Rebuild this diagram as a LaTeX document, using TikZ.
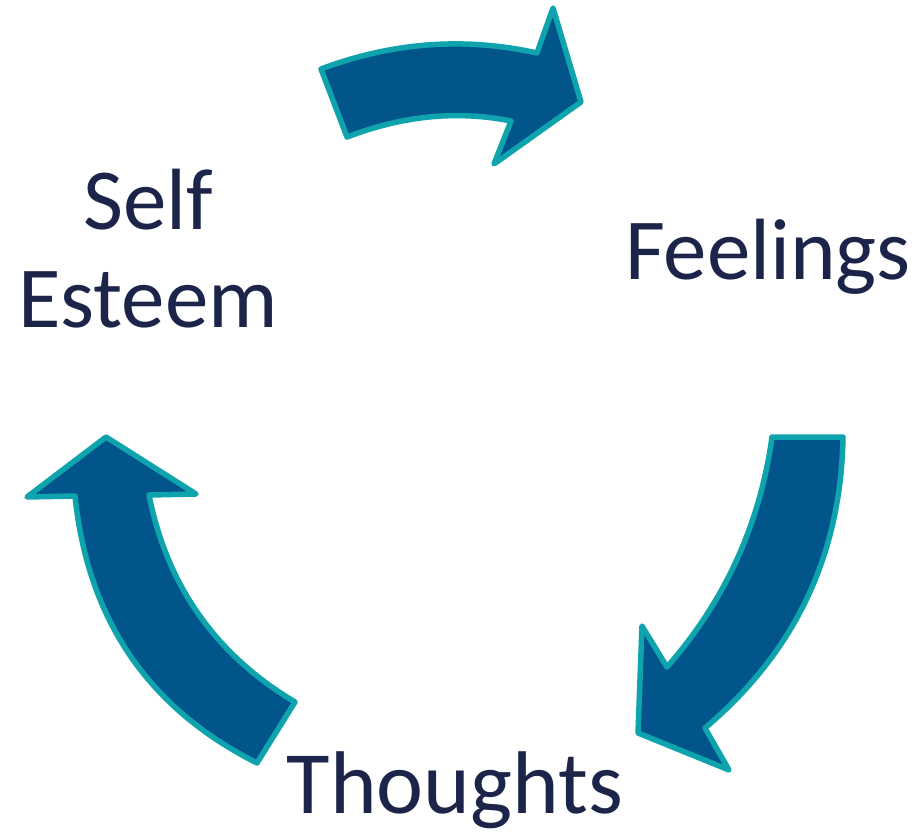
\documentclass[tikz,border=0pt]{standalone}
\usepackage{fontspec}
\setmainfont{Carlito}
\definecolor{arrowfill}{HTML}{02558A}
\definecolor{arrowline}{HTML}{0FA3AD}
\definecolor{txt}{HTML}{1C2449}
\begin{document}
\begin{tikzpicture}[x=1pt,y=-1pt,
  blockarrow/.style={fill=arrowfill,draw=arrowline,line width=5.5pt,line join=round},
  lbl/.style={text=txt,font=\fontsize{87}{98}\selectfont,inner sep=0pt,anchor=base,align=center}]
\useasboundingbox (0,0) rectangle (921,832);
% top arrow
\draw[blockarrow] (321,69) .. controls (393,42) and (465,37) .. (537,53) -- (553,8) -- (581,102) -- (494,164) -- (511,121) .. controls (456,110) and (402,116) .. (347,137) -- cycle;
% right arrow
\draw[blockarrow] (772,437) -- (843,437) .. controls (841,555) and (795,652) .. (705,728) -- (729,770) -- (638,733) -- (642,626) -- (667,667) .. controls (725,601) and (760,524) .. (772,437) -- cycle;
% left arrow
\draw[blockarrow] (106,437) -- (196,494) -- (149,495) .. controls (167,586) and (216,655) .. (295,702) -- (257,763) .. controls (148,708) and (88,620) .. (75,496) -- (27,497) -- cycle;
\node[lbl] (self) at (148,327) {Self\\Esteem};
\node[lbl] (feel) at (768,279) {Feelings};
\node[lbl,font=\fontsize{89}{98}\selectfont] (thou) at (455,813) {Thoughts};
\end{tikzpicture}
\end{document}
